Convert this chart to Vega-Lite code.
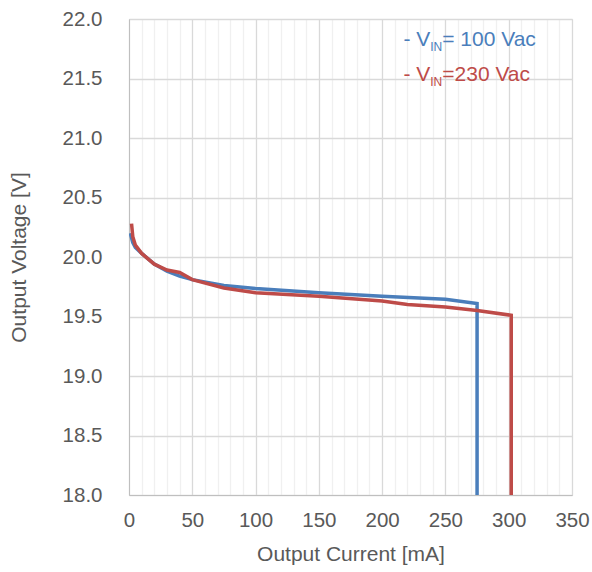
{
  "$schema": "https://vega.github.io/schema/vega-lite/v6.json",
  "width": 443,
  "height": 476,
  "autosize": {"type": "none"},
  "padding": {"left": 129, "top": 19, "right": 20, "bottom": 77},
  "background": "white",
  "config": {
    "font": "Liberation Sans",
    "view": {"stroke": "#d9d9d9", "strokeWidth": 1},
    "axis": {"labelColor": "#595959", "titleColor": "#595959", "labelFont": "Liberation Sans", "titleFont": "Liberation Sans", "titleFontWeight": "normal"}
  },
  "datasets": {
    "curves": [
      {"series": "100 Vac", "i": 1, "current": 1, "voltage": 20.20},
      {"series": "100 Vac", "i": 2, "current": 3, "voltage": 20.12},
      {"series": "100 Vac", "i": 3, "current": 5, "voltage": 20.08},
      {"series": "100 Vac", "i": 4, "current": 10, "voltage": 20.03},
      {"series": "100 Vac", "i": 5, "current": 20, "voltage": 19.94},
      {"series": "100 Vac", "i": 6, "current": 30, "voltage": 19.88},
      {"series": "100 Vac", "i": 7, "current": 40, "voltage": 19.84},
      {"series": "100 Vac", "i": 8, "current": 50, "voltage": 19.81},
      {"series": "100 Vac", "i": 9, "current": 75, "voltage": 19.76},
      {"series": "100 Vac", "i": 10, "current": 100, "voltage": 19.735},
      {"series": "100 Vac", "i": 11, "current": 150, "voltage": 19.70},
      {"series": "100 Vac", "i": 12, "current": 200, "voltage": 19.67},
      {"series": "100 Vac", "i": 13, "current": 250, "voltage": 19.645},
      {"series": "100 Vac", "i": 14, "current": 275, "voltage": 19.61},
      {"series": "100 Vac", "i": 15, "current": 275, "voltage": 18.0},
      {"series": "230 Vac", "i": 1, "current": 2, "voltage": 20.28},
      {"series": "230 Vac", "i": 2, "current": 3, "voltage": 20.17},
      {"series": "230 Vac", "i": 3, "current": 5, "voltage": 20.10},
      {"series": "230 Vac", "i": 4, "current": 10, "voltage": 20.03},
      {"series": "230 Vac", "i": 5, "current": 20, "voltage": 19.94},
      {"series": "230 Vac", "i": 6, "current": 30, "voltage": 19.89},
      {"series": "230 Vac", "i": 7, "current": 40, "voltage": 19.87},
      {"series": "230 Vac", "i": 8, "current": 50, "voltage": 19.81},
      {"series": "230 Vac", "i": 9, "current": 75, "voltage": 19.74},
      {"series": "230 Vac", "i": 10, "current": 100, "voltage": 19.70},
      {"series": "230 Vac", "i": 11, "current": 150, "voltage": 19.67},
      {"series": "230 Vac", "i": 12, "current": 200, "voltage": 19.63},
      {"series": "230 Vac", "i": 13, "current": 220, "voltage": 19.60},
      {"series": "230 Vac", "i": 14, "current": 250, "voltage": 19.58},
      {"series": "230 Vac", "i": 15, "current": 275, "voltage": 19.55},
      {"series": "230 Vac", "i": 16, "current": 302, "voltage": 19.51},
      {"series": "230 Vac", "i": 17, "current": 302, "voltage": 18.0}
    ],
    "legendMain": [
      {"series": "100 Vac", "pre": "- V", "post": "= 100 Vac", "xa": 238, "xb": 247.5, "v": 21.77},
      {"series": "230 Vac", "pre": "- V", "post": "=230 Vac", "xa": 238, "xb": 247.5, "v": 21.475}
    ]
  },
  "resolve": {"axis": {"x": "independent"}},
  "layer": [
    {
      "data": {"name": "curves"},
      "mark": {"type": "line", "strokeWidth": 3.5, "clip": true},
      "encoding": {
        "x": {
          "field": "current", "type": "quantitative",
          "scale": {"domain": [0, 350], "nice": false},
          "axis": {
            "orient": "bottom",
            "title": null,
            "values": [10,20,30,40,60,70,80,90,110,120,130,140,160,170,180,190,210,220,230,240,260,270,280,290,310,320,330,340],
            "labels": false, "ticks": false, "domain": false,
            "grid": true, "gridColor": "#f0f0f0", "gridWidth": 1.3
          }
        },
        "y": {
          "field": "voltage", "type": "quantitative",
          "scale": {"domain": [18, 22], "nice": false},
          "title": "Output Voltage [V]",
          "axis": {
            "values": [18, 18.5, 19, 19.5, 20, 20.5, 21, 21.5, 22],
            "format": ".1f",
            "labelFontSize": 20.5, "titleFontSize": 21,
            "labelPadding": 27, "titlePadding": 33,
            "ticks": false, "domain": true, "domainColor": "#bfbfbf",
            "grid": true, "gridColor": "#d9d9d9", "gridWidth": 1.3
          }
        },
        "color": {
          "field": "series", "type": "nominal",
          "scale": {"domain": ["100 Vac", "230 Vac"], "range": ["#4a7ebb", "#be4b48"]},
          "legend": null
        },
        "order": {"field": "i", "type": "quantitative"}
      }
    },
    {
      "data": {"name": "legendMain"},
      "mark": {"type": "text", "align": "right", "baseline": "alphabetic", "fontSize": 21},
      "encoding": {
        "x": {
          "field": "xa", "type": "quantitative",
          "axis": {
            "orient": "bottom",
            "title": "Output Current [mA]",
            "values": [0, 50, 100, 150, 200, 250, 300, 350],
            "labelFontSize": 20.5, "titleFontSize": 21,
            "labelPadding": 15, "titlePadding": 13,
            "labelOverlap": false, "labelFlush": false,
            "ticks": false, "domain": true, "domainColor": "#bfbfbf",
            "grid": true, "gridColor": "#d9d9d9", "gridWidth": 1.3
          }
        },
        "y": {"field": "v", "type": "quantitative"},
        "text": {"field": "pre"},
        "color": {"field": "series", "type": "nominal", "legend": null}
      }
    },
    {
      "data": {"name": "legendMain"},
      "mark": {"type": "text", "align": "left", "baseline": "alphabetic", "fontSize": 12, "dy": 5},
      "encoding": {
        "x": {"field": "xa", "type": "quantitative", "axis": null},
        "y": {"field": "v", "type": "quantitative"},
        "text": {"value": "IN"},
        "color": {"field": "series", "type": "nominal", "legend": null}
      }
    },
    {
      "data": {"name": "legendMain"},
      "mark": {"type": "text", "align": "left", "baseline": "alphabetic", "fontSize": 21},
      "encoding": {
        "x": {"field": "xb", "type": "quantitative", "axis": null},
        "y": {"field": "v", "type": "quantitative"},
        "text": {"field": "post"},
        "color": {"field": "series", "type": "nominal", "legend": null}
      }
    }
  ]
}
